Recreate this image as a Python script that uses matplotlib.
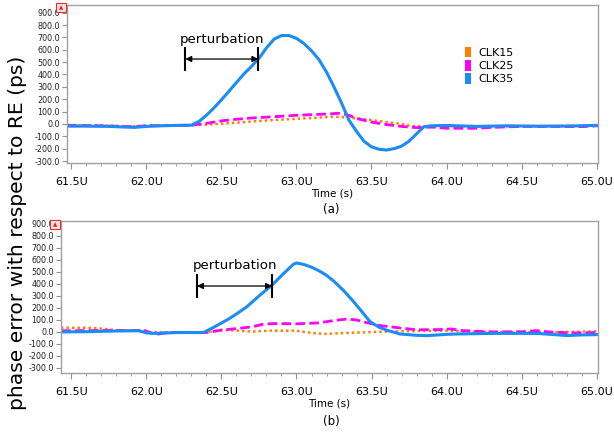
import matplotlib
matplotlib.use('Agg')
import matplotlib.pyplot as plt
from matplotlib.patches import Patch, Rectangle
from matplotlib.ticker import MultipleLocator, FuncFormatter
import numpy as np

# ---- panel (a) ----
a_clk35_t = [61.47, 61.6, 61.75, 61.85, 61.92, 62.0, 62.1, 62.2, 62.3, 62.35, 62.4, 62.45, 62.5, 62.55,
	62.6, 62.65, 62.7, 62.75, 62.8, 62.85, 62.9, 62.95, 63.0, 63.05, 63.1, 63.15, 63.2, 63.25, 63.3,
	63.35, 63.4, 63.45, 63.5, 63.55, 63.6, 63.65, 63.7, 63.75, 63.8, 63.85, 63.9, 64.0, 64.2, 64.4,
	64.6, 64.8, 65.01]
a_clk35 = [-18, -18, -20, -25, -28, -20, -15, -12, -10, 20, 70, 130, 195, 265,
	335, 405, 465, 530, 615, 685, 715, 715, 692, 650, 592, 520, 420, 300, 170,
	30, -60, -140, -185, -205, -211, -200, -180, -140, -80, -22, -15, -12, -20, -15,
	-18, -17, -12]

a_clk25_t = [61.47, 61.7, 61.9, 62.0, 62.3, 62.4, 62.5, 62.6, 62.7, 62.8, 62.9, 63.0, 63.1, 63.2,
	63.28, 63.35, 63.4, 63.5, 63.6, 63.7, 63.8, 63.9, 64.0, 64.2, 64.3, 64.5, 64.7, 64.9, 65.01]
a_clk25 = [-12, -15, -22, -15, -10, 5, 25, 38, 48, 55, 62, 70, 75, 80,
	86, 70, 45, 15, -5, -20, -30, -25, -35, -35, -28, -20, -20, -22, -15]

a_clk15_t = [61.47, 61.7, 61.9, 62.0, 62.3, 62.4, 62.5, 62.6, 62.7, 62.8, 62.9, 63.0, 63.1, 63.2,
	63.25, 63.3, 63.4, 63.5, 63.6, 63.7, 63.76, 63.85, 64.0, 64.3, 64.6, 64.9, 65.01]
a_clk15 = [-10, -12, -20, -15, -10, -5, 2, 10, 20, 28, 35, 42, 48, 55,
	59, 55, 45, 32, 15, 0, -17, -20, -18, -20, -18, -15, -8]

# ---- panel (b) ----
b_clk35_t = [61.43, 61.6, 61.8, 61.95, 62.0, 62.05, 62.1, 62.2, 62.38, 62.45, 62.5, 62.55, 62.6, 62.67,
	62.75, 62.84, 62.9, 62.95, 62.98, 63.0, 63.05, 63.1, 63.15, 63.2, 63.25, 63.31, 63.37, 63.43,
	63.49, 63.55, 63.6, 63.69, 63.8, 63.87, 64.0, 64.07, 64.3, 64.6, 64.75, 64.8, 64.9, 65.01]
b_clk35 = [0, 2, 8, 10, -8, -12, -10, -5, -5, 40, 75, 110, 150, 211,
	300, 394, 470, 530, 565, 575, 562, 540, 510, 472, 422, 350, 268, 178,
	86, 40, 15, -17, -28, -31, -20, -17, -12, -12, -25, -30, -25, -22]

b_clk25_t = [61.43, 61.7, 61.95, 61.98, 62.02, 62.07, 62.12, 62.2, 62.4, 62.5, 62.6, 62.7, 62.78, 62.85,
	63.0, 63.14, 63.25, 63.34, 63.4, 63.46, 63.55, 63.65, 63.8, 63.95, 64.03, 64.1, 64.3, 64.5,
	64.6, 64.7, 64.85, 65.01]
b_clk25 = [10, 12, 12, 18, -5, -20, -8, -5, -5, 15, 28, 42, 65, 70,
	68, 75, 95, 108, 100, 80, 55, 39, 18, 20, 25, 12, 0, 2,
	11, -2, -8, -5]

b_clk15_t = [61.43, 61.6, 61.7, 61.8, 61.95, 62.0, 62.1, 62.4, 62.5, 62.6, 62.7, 62.83, 63.0, 63.1,
	63.18, 63.3, 63.45, 63.6, 63.8, 64.0, 64.2, 64.5, 64.8, 65.01]
b_clk15 = [35, 35, 28, 15, 10, 0, -3, -3, 17, 12, 3, 11, 10, -8,
	-17, -10, -3, 3, 8, 11, 2, -3, 0, 5]

series_names = ['CLK15', 'CLK25', 'CLK35']
colors = {'CLK15': '#ff8000', 'CLK25': '#ff00ff', 'CLK35': '#1a8cf5'}

# perturbation window (start, end, arrow level, label level)
a_pert = (62.259, 62.746, 525, 679)
b_pert = (62.337, 62.837, 383, 552)

fig = plt.figure(figsize=(6.14, 4.34), dpi=100)
ax1 = fig.add_axes([0.109, 0.6244, 0.865, 0.3641])
ax2 = fig.add_axes([0.0993, 0.1406, 0.8747, 0.3502])


def draw_panel(ax, data, pert, xlim, ylim):
	(t15, y15), (t25, y25), (t35, y35) = data
	ax.plot(t15, y15, color=colors['CLK15'], lw=1.8, ls=(0, (1, 1.2)))
	ax.plot(t25, y25, color=colors['CLK25'], lw=2.0, ls=(0, (3.5, 1.5)))
	ax.plot(t35, y35, color=colors['CLK35'], lw=2.2)
	ax.set_xlim(*xlim)
	ax.set_ylim(*ylim)

	ax.xaxis.set_major_locator(MultipleLocator(0.5))
	ax.xaxis.set_minor_locator(MultipleLocator(0.1))
	ax.set_yticks(np.arange(-300, 901, 100))
	ax.xaxis.set_major_formatter(FuncFormatter(lambda v, p: '%.1fU' % v))
	ax.yaxis.set_major_formatter(FuncFormatter(lambda v, p: '%.1f' % v))
	ax.tick_params(axis='x', which='major', labelsize=8, length=4, color='#909090', pad=6)
	ax.tick_params(axis='x', which='minor', length=2.5, color='#909090')
	ax.tick_params(axis='y', labelsize=5.8, length=3.5, color='#909090', pad=1.5, labelcolor='#222222')
	for s in ax.spines.values():
		s.set_color('#a0a0a0')
		s.set_linewidth(1.0)
	ax.set_xlabel('Time (s)', fontsize=7.5, labelpad=1)

	x0, x1, ya, yt = pert
	h = (ylim[1] - ylim[0]) * 0.07
	ax.plot([x0, x0], [ya - h, ya + h], color='black', lw=1.5)
	ax.plot([x1, x1], [ya - h, ya + h], color='black', lw=1.5)
	ax.annotate('', xy=(x1, ya), xytext=(x0, ya),
		arrowprops=dict(arrowstyle='<|-|>', color='black', lw=0.9, mutation_scale=9, shrinkA=0, shrinkB=0))
	ax.text((x0 + x1) / 2, yt, 'perturbation', fontsize=9.6, ha='center', va='center')


draw_panel(ax1, [(a_clk15_t, a_clk15), (a_clk25_t, a_clk25), (a_clk35_t, a_clk35)],
	a_pert, (61.47, 65.01), (-316, 962))
draw_panel(ax2, [(b_clk15_t, b_clk15), (b_clk25_t, b_clk25), (b_clk35_t, b_clk35)],
	b_pert, (61.43, 65.01), (-342, 925))

handles = [Patch(facecolor=colors[n], edgecolor='none') for n in series_names]
ax1.legend(handles, series_names, loc='upper left', bbox_to_anchor=(0.73, 0.80), frameon=False,
	fontsize=8, handlelength=0.55, handleheight=1.1, handletextpad=0.7, labelspacing=0.2)

fig.text(331 / 614, 1 - 210 / 434, '(a)', fontsize=8.5, ha='center', va='center')
fig.text(331 / 614, 1 - 422 / 434, '(b)', fontsize=8.5, ha='center', va='center')
fig.text(18 / 614, 1 - 233 / 434, 'phase error with respect to RE (ps)', fontsize=14.6,
	rotation=90, ha='center', va='center')

# little red flags in the top-left corner of each plot
for (px, py) in [(56, 3), (50, 220)]:
	fig.patches.append(Rectangle((px / 614, 1 - (py + 9) / 434), 10 / 614, 9 / 434,
		transform=fig.transFigure, facecolor='#ffe0e0', edgecolor='#e03030', lw=0.8))
	fig.text((px + 5) / 614, 1 - (py + 4.5) / 434, '\u25b2', color='#e02020', fontsize=4,
		ha='center', va='center')

fig.savefig('out.png', dpi=100)
